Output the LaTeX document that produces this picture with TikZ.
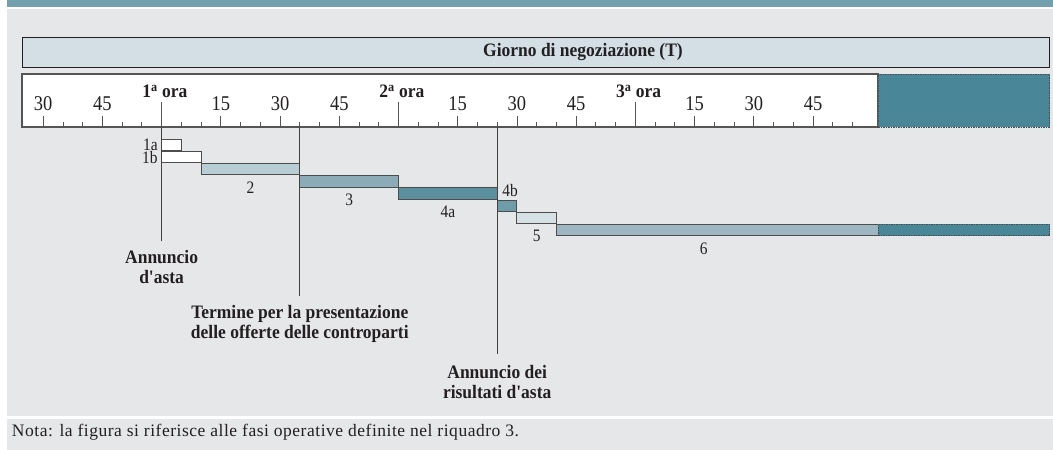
\documentclass[tikz,border=0pt]{standalone}
\usepackage{fontspec}
\setmainfont{Liberation Serif}
\newfontfamily\condfont[FakeStretch=0.92]{Liberation Serif}
\newfontfamily\narrowfont[FakeStretch=0.88]{Liberation Serif}
\newfontfamily\notefont[LetterSpace=3]{Liberation Serif}
\usetikzlibrary{positioning}
\definecolor{bandteal}{HTML}{72A0AE}
\definecolor{panelgray}{HTML}{E6E7E9}
\definecolor{headfill}{HTML}{D3DFE5}
\definecolor{extteal}{HTML}{488698}
\definecolor{phaseA}{HTML}{B9CDD5}
\definecolor{phaseB}{HTML}{8BABB8}
\definecolor{phaseC}{HTML}{5B8F9E}
\definecolor{phaseD}{HTML}{6F9CA9}
\definecolor{phaseE}{HTML}{D6E1E6}
\definecolor{phaseF}{HTML}{9EB6C1}
\definecolor{rulegray}{HTML}{555555}
\definecolor{ink}{HTML}{231F20}
\begin{document}
\begin{tikzpicture}[x=1pt,y=-1pt,
  every node/.style={inner sep=0pt,outer sep=0pt,text=ink},
  headbox/.style={draw=ink,line width=0.9pt,fill=headfill},
  rtick/.style={draw=rulegray,line width=0.8pt},
  num/.style={font=\narrowfont\fontsize{21}{21}\selectfont,anchor=base},
  hour/.style={font=\condfont\bfseries\fontsize{19}{19}\selectfont,anchor=base},
  evlabel/.style={font=\condfont\bfseries\fontsize{19}{20}\selectfont,align=center},
  phase/.style={font=\narrowfont\fontsize{17.5}{17.5}\selectfont},
  bar/.style={draw=ink!80,line width=0.9pt,minimum height=11.3pt,anchor=north west},
  extbox/.style={fill=extteal,draw=ink!80,line width=0.9pt,dash pattern=on 1.5pt off 1pt,anchor=north west},
  evline/.style={draw=ink!85,line width=0.9pt}]
\useasboundingbox (0,0) rectangle (1053,450);
\fill[bandteal] (6.7,0) rectangle (1053,6.7);
\fill[panelgray] (6.7,9) rectangle (1053,416);
\fill[panelgray] (6.7,419.3) rectangle (1053,450);

\draw[headbox] (22,37.3) rectangle (1049.6,67.3);
\node[font=\condfont\bfseries\fontsize{19}{19}\selectfont] (giorno) at (583,52.3) {Giorno di negoziazione (T)};

\node[draw=rulegray,line width=1.2pt,fill=white,minimum width=856pt,minimum height=53pt,anchor=north west] (ruler) at (22,74) {};
\node[extbox,minimum width=171.6pt,minimum height=53pt] (rulerext) at (ruler.north east) {};

\begin{scope}[xshift=161.6pt,x=3.948pt]
\foreach \t in {-30,-25,...,175} {
  \pgfmathsetmacro\len{mod(\t,60)==0 ? 25 : (mod(\t,15)==0 ? 11 : 5)}
  \draw[rtick] (\t,127) -- ++(0,-\len);
}
\foreach \t/\m in {-30/30,-15/45,15/15,30/30,45/45,75/15,90/30,105/45,135/15,150/30,165/45}
  \node[num] (n\t) at (\t,110.5) {\m};
\foreach \h [count=\i] in {0,60,120}
  \node[hour] (h\i) at (\h+0.85,97.3) {\i\textsuperscript{a} ora};

\foreach \a/\b/\r/\c/\n in {0/5/0/white/1a,0/10/1/white/1b,10/35/2/phaseA/2,35/60/3/phaseB/3,
    60/85/4/phaseC/4a,85/90/5/phaseD/4b,90/100/6/phaseE/5,100/181.46/7/phaseF/6}
  \node[bar,fill=\c,minimum width={(\b-\a)*3.948pt}] (bar\n) at (\a,139.3+12.15*\r) {};
\node[extbox,minimum width=171.6pt,minimum height=11.3pt] (barext) at (bar6.north east) {};

\node[phase,left=4pt of bar1a.west] (l1a) {1a};
\node[phase,left=4pt of bar1b.west] (l1b) {1b};
\node[phase,below=7pt of bar2.south] (l2) {2};
\node[phase,below=7pt of bar3.south] (l3) {3};
\node[phase,below=7pt of bar4a.south] (l4a) {4a};
\node[phase,above=3pt of bar4b.north,xshift=3pt] (l4b) {4b};
\node[phase,below=7pt of bar5.south] (l5) {5};
\node[phase,below=7pt of bar6.south,xshift=-13.5pt] (l6) {6};

\coordinate (ev1) at (0,127);
\coordinate (ev1e) at (0,241);
\coordinate (ev2) at (35,127);
\coordinate (ev2e) at (35,296);
\coordinate (ev3) at (85,127);
\coordinate (ev3e) at (85,354);
\draw[evline] (ev1) -- (ev1e);
\draw[evline] (ev2) -- (ev2e);
\draw[evline] (ev3) -- (ev3e);
\node[evlabel,below=9.5pt of ev1e] (annuncio) {Annuncio\\d'asta};
\node[evlabel,below=9.5pt of ev2e] (termine) {Termine per la presentazione\\delle offerte delle controparti};
\node[evlabel,below=11pt of ev3e] (risultati) {Annuncio dei\\risultati d'asta};
\end{scope}

\node[font=\notefont\fontsize{17.5}{17.5}\selectfont,anchor=west] (nota) at (12,432.5) {Nota: la figura si riferisce alle fasi operative definite nel riquadro 3.};
\end{tikzpicture}
\end{document}
